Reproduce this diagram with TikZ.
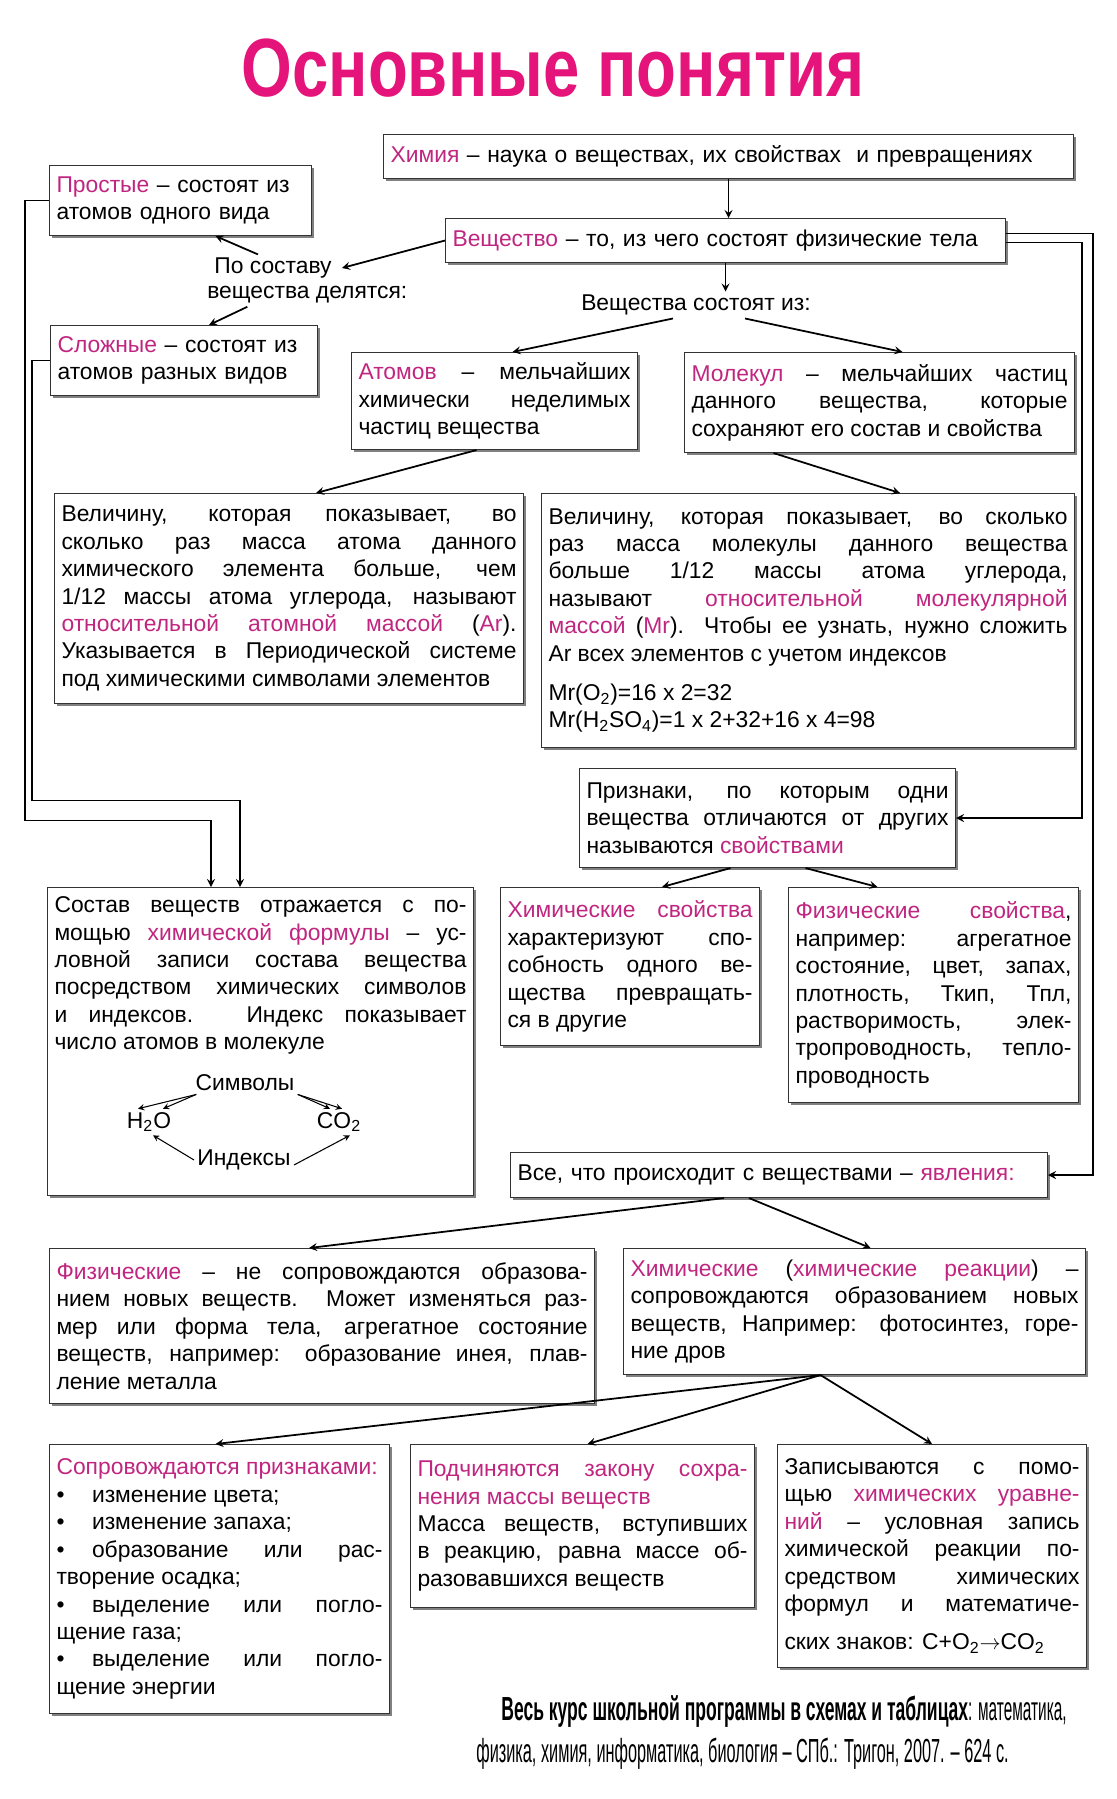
\documentclass[tikz,border=0pt]{standalone}
\usepackage{fontspec}
\setmainfont{Liberation Sans}
\usepackage{graphicx}
\usetikzlibrary{shadows}

\definecolor{keypink}{RGB}{192,38,128}
\definecolor{titlepink}{RGB}{228,20,122}
\newcommand{\kw}[1]{\textcolor{keypink}{#1}}
\newcommand{\bodyfont}{\fontsize{13}{15.6}\selectfont\hyphenpenalty=10000\exhyphenpenalty=10000}

\begin{document}
\begin{tikzpicture}[x=0.2mm, y=-0.2mm,
    box/.style={draw=black!80, line width=0.6pt, fill=white, anchor=north west, align=justify,
        inner xsep=1.4mm, inner ysep=1.2mm, font=\bodyfont,
        drop shadow={shadow xshift=0.45mm, shadow yshift=-0.45mm, fill=black!50, opacity=1}},
    plain/.style={font=\bodyfont, inner sep=0.6mm},
    cite/.style={font=\fontsize{19}{22}\selectfont, inner sep=0pt, anchor=west},
    arr/.style={->, >=stealth, line width=1pt},
    sarr/.style={->, >=stealth, line width=0.6pt}]

    \fill[white] (0,0) rectangle (1117,1799);

    % title
    \node[font=\fontsize{47}{50}\selectfont\bfseries, text=titlepink] (title) at (553,68) {\scalebox{0.79}[1]{Основные понятия}};

    % top row
    \node[box, align=left, text width=135.2mm, minimum height=8.8mm] (chem) at (383,134)
        {\kw{Химия} – наука о веществах, их свойствах\ \ и превращениях};
    \node[box, align=left, text width=49.6mm, minimum height=14mm] (simple) at (49,165)
        {\kw{Простые} – состоят из\\атомов одного вида};
    \node[box, align=left, text width=109.2mm, minimum height=8.8mm] (subst) at (445,218)
        {\kw{Вещество} – то, из чего состоят физические тела};
    \node[plain, anchor=west, inner xsep=2mm] (divtop) at (204,268) {По составу};
    \node[plain, anchor=west] (divbot) at (204,295) {вещества делятся:};
    \node[plain] (consist) at (696,305) {Вещества состоят из:};
    \node[box, align=left, text width=50.6mm, minimum height=14mm] (complex) at (50,325)
        {\kw{Сложные} – состоят из\\атомов разных видов};

    % atoms and molecules
    \node[box, text width=54.4mm, minimum height=19.4mm] (atoms) at (351,352)
        {\kw{Атомов} – мельчайших\linebreak химически неделимых\linebreak частиц вещества};
    \node[box, text width=75.2mm, minimum height=20mm] (molec) at (684,352)
        {\kw{Молекул} – мельчайших частиц\linebreak данного вещества, которые\linebreak сохраняют его состав и свойства};
    \node[box, text width=91mm, minimum height=42mm] (ar) at (54,493)
        {Величину, которая показывает, во\linebreak сколько раз масса атома данного\linebreak химического элемента больше, чем\linebreak 1/12 массы атома углерода, называют\linebreak \kw{относительной атомной массой} (\kw{Ar}).\linebreak Указывается в Периодической системе\linebreak под химическими символами элементов};
    \node[box, text width=103.8mm, minimum height=50.8mm] (mr) at (541,493)
        {Величину, которая показывает, во сколько\linebreak раз масса молекулы данного вещества\linebreak больше 1/12 массы атома углерода,\linebreak называют \kw{относительной молекулярной}\linebreak \kw{массой} (\kw{Mr}). Чтобы ее узнать, нужно сложить\linebreak Ar всех элементов с учетом индексов\par\vspace{2.4mm}Mr(O\textsubscript{2})=16 x 2=32\\Mr(H\textsubscript{2}SO\textsubscript{4})=1 x 2+32+16 x 4=98};

    % properties
    \node[box, text width=72.4mm, minimum height=19.8mm] (props) at (579,768)
        {Признаки, по которым одни\linebreak вещества отличаются от других\linebreak называются \kw{свойствами}};
    \node[box, text width=82.4mm, minimum height=61.6mm] (formula) at (47,887)
        {Состав веществ отражается с по-\linebreak мощью \kw{химической формулы} – ус-\linebreak ловной записи состава вещества\linebreak посредством химических символов\linebreak и индексов. Индекс показывает\linebreak число атомов в молекуле\par\rule{0pt}{26mm}};
    \node[box, text width=49mm, minimum height=31.6mm] (chemprops) at (500,887)
        {\kw{Химические свойства}\linebreak характеризуют спо-\linebreak собность одного ве-\linebreak щества превращать-\linebreak ся в другие};
    \node[box, text width=55.2mm, minimum height=43mm] (physprops) at (788,887)
        {\kw{Физические свойства},\linebreak например: агрегатное\linebreak состояние, цвет, запах,\linebreak плотность, Ткип, Тпл,\linebreak растворимость, элек-\linebreak тропроводность, тепло-\linebreak проводность};

    % symbols and indices
    \node[plain] (sym) at (245,1083) {Символы};
    \node[plain] (h2o) at (149,1122) {H\textsubscript{2}O};
    \node[plain] (co2) at (339,1122) {CO\textsubscript{2}};
    \node[plain] (idx) at (244,1160) {Индексы};
    \draw[sarr] ([xshift=0.8mm]sym.south west) -- ([xshift=-2.2mm]h2o.north);
    \draw[sarr] ([xshift=0.8mm]sym.south west) -- ([xshift=2.8mm]h2o.north);
    \draw[sarr] (sym.south east) -- ([xshift=-1.8mm]co2.north);
    \draw[sarr] (sym.south east) -- ([xshift=0.6mm]co2.north);
    \draw[sarr] (idx.west) -- ([xshift=0.8mm]h2o.south);
    \draw[sarr] ([yshift=-1mm]idx.east) -- ([xshift=2.2mm]co2.south);

    % phenomena
    \node[box, align=left, text width=104.6mm, minimum height=9mm] (phen) at (510,1152)
        {Все, что происходит с веществами – \kw{явления:}};
    \node[box, text width=106.2mm, minimum height=31mm] (physphen) at (49,1248)
        {\kw{Физические} – не сопровождаются образова-\linebreak нием новых веществ. Может изменяться раз-\linebreak мер или форма тела, агрегатное состояние\linebreak веществ, например: образование инея, плав-\linebreak ление металла};
    \node[box, text width=89.6mm, minimum height=25.2mm] (chemphen) at (623,1248)
        {\kw{Химические} (\kw{химические реакции}) –\linebreak сопровождаются образованием новых\linebreak веществ, Например: фотосинтез, горе-\linebreak ние дров};

    % chemical phenomena
    \node[box, text width=65.2mm, minimum height=53.8mm] (signs) at (49,1444)
        {\kw{Сопровождаются признаками:}\\
        \textbullet\hspace{5.5mm}изменение цвета;\\
        \textbullet\hspace{5.5mm}изменение запаха;\\
        \textbullet\hspace{5.5mm}образование или рас-\linebreak творение осадка;\\
        \textbullet\hspace{5.5mm}выделение или погло-\linebreak щение газа;\\
        \textbullet\hspace{5.5mm}выделение или погло-\linebreak щение энергии};
    \node[box, text width=66mm, minimum height=32.6mm] (law) at (410,1444)
        {\kw{Подчиняются закону сохра-\linebreak нения массы веществ}\\Масса веществ, вступивших\linebreak в реакцию, равна массе об-\linebreak разовавшихся веществ};
    \node[box, text width=59mm, minimum height=44.6mm] (eqn) at (777,1444)
        {Записываются с помо-\linebreak щью \kw{химических уравне-\linebreak ний} – условная запись\linebreak химической реакции по-\linebreak средством химических\linebreak формул и математиче-\linebreak \rule{0pt}{6.3mm}ских знаков: C+O\textsubscript{2}$\rightarrow$CO\textsubscript{2}};

    % source
    \node[cite] (cite1) at (501,1712) {\scalebox{0.525}[1]{\bfseries Весь курс школьной программы в схемах и таблицах}\scalebox{0.46}[1]{: математика,}};
    \node[cite] (cite2) at (476,1754) {\scalebox{0.488}[1]{физика, химия, информатика, биология – СПб.: Тригон, 2007. – 624 с.}};

    % connectors
    \draw[arr] (chem.south) -- (chem.south |- subst.north);
    \draw[arr] (subst.south) -- (subst.south |- consist.north);
    \draw[arr] (subst.west) -- (divtop.east);
    \draw[arr] ([xshift=-3mm]divtop.north) -- ([xshift=7mm]simple.south);
    \draw[arr] ([xshift=-12mm]divbot.south) -- ([xshift=5mm]complex.north);
    \draw[arr] ([xshift=-4.6mm]consist.south) -- ([xshift=3.6mm]atoms.north);
    \draw[arr] ([xshift=9.8mm]consist.south) -- ([xshift=4.6mm]molec.north);
    \draw[arr] ([xshift=-3.6mm]atoms.south) -- ([xshift=5.4mm]ar.north);
    \draw[arr] ([xshift=-21.2mm]molec.south) -- ([xshift=18.4mm]mr.north);
    \draw[arr] ([xshift=-7.4mm]props.south) -- ([xshift=6.4mm]chemprops.north);
    \draw[arr] ([xshift=7.6mm]props.south) -- ([xshift=-11.2mm]physprops.north);
    \draw[arr] ([xshift=-11mm]phen.south) -- ([xshift=-2.6mm]physphen.north);
    \draw[arr] ([xshift=-6mm]phen.south) -- ([xshift=3.2mm]chemphen.north);
    \draw[arr] ([xshift=-6.8mm]chemphen.south) -- ([xshift=-0.8mm]signs.north);
    \draw[arr] ([xshift=-6.8mm]chemphen.south) -- ([xshift=1mm]law.north);
    \draw[arr] ([xshift=-6.8mm]chemphen.south) -- (eqn.north);

    \draw[arr] (simple.west) -- ++(-24,0) -- ++(0,620) -| ([xshift=32.8mm]formula.north west);
    \draw[arr] (complex.west) -- ++(-18,0) -- ++(0,440) -| ([xshift=38.6mm]formula.north west);
    \draw[arr] ([yshift=1.4mm]subst.east) -- ++(87,0) |- (phen.east);
    \draw[arr] ([yshift=-0.4mm]subst.east) -- ++(76,0) |- (props.east);

\end{tikzpicture}
\end{document}
